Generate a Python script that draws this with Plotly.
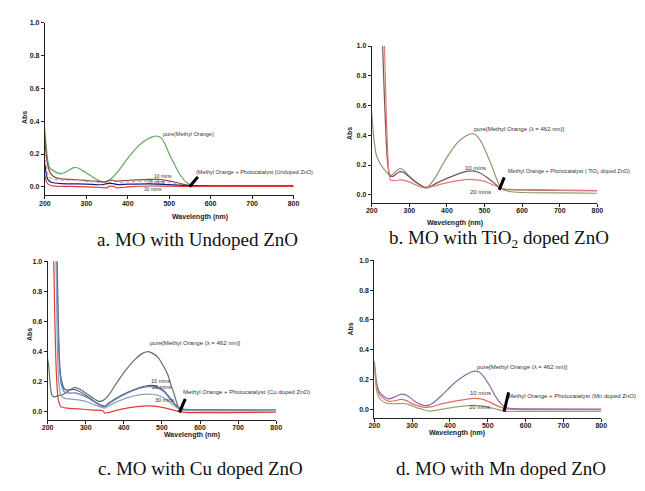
import plotly.graph_objects as go

# ---------------- data ----------------
# Panel a: MO with Undoped ZnO
A_PURE_WL = [200, 203, 207, 212, 220, 230, 240, 250, 260, 270, 280, 290, 300, 315, 330, 340, 350, 360, 375, 390, 405, 420, 435, 450, 460, 468, 480, 490, 500, 510, 520, 530, 540, 550, 560, 600, 700, 800]
A_PURE = [0.35, 0.25, 0.16, 0.115, 0.10, 0.085, 0.08, 0.09, 0.105, 0.117, 0.115, 0.10, 0.085, 0.06, 0.038, 0.028, 0.03, 0.05, 0.09, 0.14, 0.19, 0.235, 0.27, 0.295, 0.305, 0.31, 0.30, 0.26, 0.20, 0.15, 0.10, 0.06, 0.03, 0.013, 0.007, 0.005, 0.004, 0.004]
A_10_WL = [200, 203, 207, 212, 220, 235, 260, 280, 300, 330, 345, 355, 365, 370, 390, 420, 450, 475, 495, 515, 535, 550, 570, 800]
A_10 = [0.30, 0.20, 0.13, 0.09, 0.065, 0.05, 0.045, 0.043, 0.038, 0.033, 0.03, 0.04, 0.04, 0.035, 0.038, 0.042, 0.045, 0.045, 0.038, 0.028, 0.015, 0.008, 0.005, 0.005]
A_20_WL = [200, 205, 210, 220, 250, 270, 300, 340, 350, 360, 370, 400, 450, 480, 500, 530, 550, 800]
A_20 = [0.20, 0.10, 0.06, 0.045, 0.04, 0.04, 0.033, 0.025, 0.022, 0.03, 0.02, 0.03, 0.035, 0.035, 0.025, 0.012, 0.006, 0.004]
A_NAVY_WL = [200, 203, 207, 215, 240, 300, 340, 350, 365, 372, 400, 450, 500, 550, 600, 800]
A_NAVY = [0.14, 0.08, 0.045, 0.028, 0.02, 0.017, 0.013, 0.02, 0.02, 0.014, 0.016, 0.018, 0.014, 0.007, 0.005, 0.005]
A_30_WL = [200, 203, 208, 220, 260, 300, 335, 350, 355, 368, 372, 400, 450, 500, 550, 800]
A_30 = [0.07, 0.035, 0.015, 0.005, 0.003, 0.0, -0.004, -0.006, 0.003, 0.002, -0.006, 0.0, 0.005, 0.004, 0.002, 0.003]

# Panel b: MO with TiO2 doped ZnO
B_PURE_WL = [200, 203, 207, 212, 220, 230, 240, 248, 255, 265, 275, 285, 300, 320, 340, 350, 370, 390, 410, 430, 450, 465, 475, 490, 500, 510, 520, 530, 540, 550, 565, 600, 700, 800]
B_PURE = [0.55, 0.45, 0.35, 0.27, 0.22, 0.18, 0.15, 0.13, 0.135, 0.16, 0.175, 0.165, 0.125, 0.08, 0.05, 0.055, 0.12, 0.21, 0.29, 0.355, 0.395, 0.41, 0.405, 0.36, 0.31, 0.25, 0.19, 0.12, 0.06, 0.035, 0.022, 0.015, 0.012, 0.01]
B_10_WL = [229, 233, 237, 241, 245, 250, 258, 265, 275, 285, 300, 320, 340, 350, 370, 400, 430, 450, 467, 485, 505, 525, 540, 555, 600, 700, 800]
B_10 = [1.0, 0.7, 0.45, 0.25, 0.16, 0.125, 0.125, 0.14, 0.155, 0.15, 0.12, 0.08, 0.05, 0.048, 0.075, 0.11, 0.14, 0.155, 0.16, 0.15, 0.12, 0.08, 0.047, 0.035, 0.033, 0.03, 0.028]
B_20_WL = [234, 237, 240, 243, 246, 250, 260, 275, 290, 310, 330, 345, 360, 390, 430, 460, 480, 500, 520, 540, 555, 600, 700, 800]
B_20 = [1.0, 0.7, 0.45, 0.25, 0.14, 0.10, 0.095, 0.10, 0.095, 0.075, 0.052, 0.045, 0.055, 0.075, 0.095, 0.104, 0.10, 0.09, 0.07, 0.048, 0.038, 0.035, 0.03, 0.028]

# Panel c: MO with Cu doped ZnO
C_PURE_WL = [200, 203, 206, 210, 215, 225, 240, 255, 270, 285, 300, 320, 335, 345, 360, 378, 403, 430, 450, 464, 475, 490, 505, 515, 525, 532, 540, 547, 560, 600, 800]
C_PURE = [0.35, 0.30, 0.20, 0.12, 0.10, 0.105, 0.115, 0.14, 0.162, 0.15, 0.125, 0.09, 0.07, 0.075, 0.11, 0.18, 0.27, 0.35, 0.39, 0.40, 0.39, 0.36, 0.30, 0.25, 0.17, 0.12, 0.05, 0.015, 0.012, 0.01, 0.01]
C_10_WL = [225, 228, 232, 237, 245, 255, 268, 280, 300, 320, 340, 352, 356, 380, 410, 440, 465, 485, 505, 525, 540, 555, 600, 800]
C_10 = [1.0, 0.6, 0.3, 0.2, 0.15, 0.145, 0.15, 0.14, 0.11, 0.075, 0.045, 0.04, 0.05, 0.09, 0.13, 0.16, 0.175, 0.17, 0.14, 0.08, 0.035, 0.018, 0.014, 0.012]
C_20_WL = [224, 227, 231, 236, 245, 260, 275, 300, 320, 340, 352, 356, 380, 410, 440, 465, 485, 505, 525, 540, 555, 600, 800]
C_20 = [1.0, 0.6, 0.3, 0.18, 0.13, 0.125, 0.125, 0.10, 0.07, 0.04, 0.035, 0.045, 0.085, 0.125, 0.155, 0.168, 0.163, 0.135, 0.075, 0.033, 0.017, 0.013, 0.011]
C_30_WL = [222, 225, 229, 235, 245, 260, 280, 300, 320, 340, 350, 356, 380, 410, 440, 465, 490, 510, 530, 545, 560, 800]
C_30 = [1.0, 0.5, 0.2, 0.11, 0.09, 0.085, 0.08, 0.07, 0.05, 0.032, 0.025, 0.035, 0.065, 0.095, 0.113, 0.118, 0.11, 0.085, 0.045, 0.018, 0.01, 0.008]
C_RED_WL = [216, 219, 223, 228, 235, 250, 280, 320, 345, 350, 358, 380, 420, 460, 480, 510, 540, 560, 800]
C_RED = [1.0, 0.6, 0.25, 0.08, 0.035, 0.025, 0.02, 0.012, 0.008, -0.008, -0.005, 0.01, 0.03, 0.04, 0.038, 0.025, 0.005, -0.003, -0.002]

# Panel d: MO with Mn doped ZnO
D_PURE_WL = [200, 203, 207, 212, 220, 230, 240, 250, 262, 275, 290, 305, 320, 333, 345, 360, 380, 400, 420, 440, 455, 467, 478, 490, 505, 520, 535, 545, 560, 600, 800]
D_PURE = [0.325, 0.25, 0.17, 0.125, 0.10, 0.08, 0.072, 0.08, 0.095, 0.104, 0.09, 0.06, 0.037, 0.027, 0.03, 0.055, 0.10, 0.15, 0.195, 0.23, 0.25, 0.258, 0.25, 0.22, 0.16, 0.09, 0.04, 0.018, 0.008, 0.005, 0.004]
D_10_WL = [200, 203, 207, 212, 220, 230, 240, 255, 270, 285, 300, 320, 335, 350, 380, 420, 450, 465, 485, 505, 525, 545, 570, 800]
D_10 = [0.30, 0.22, 0.15, 0.11, 0.085, 0.065, 0.055, 0.06, 0.068, 0.06, 0.04, 0.022, 0.015, 0.018, 0.04, 0.06, 0.072, 0.075, 0.07, 0.05, 0.025, 0.007, 0.002, 0.0]
D_20_WL = [200, 203, 207, 212, 220, 230, 240, 260, 275, 290, 310, 330, 345, 360, 400, 440, 465, 490, 520, 545, 570, 800]
D_20 = [0.32, 0.20, 0.12, 0.085, 0.06, 0.045, 0.04, 0.04, 0.042, 0.035, 0.015, 0.0, -0.01, -0.005, 0.012, 0.025, 0.028, 0.022, 0.005, -0.01, -0.012, -0.012]

X_TICKS = [200, 300, 400, 500, 600, 700, 800]
Y_TICKS = [0.0, 0.2, 0.4, 0.6, 0.8, 1.0]
CAPTIONS = ["a. MO with Undoped ZnO", "b. MO with TiO<sub>2</sub> doped ZnO",
            "c. MO with Cu doped ZnO", "d. MO with Mn doped ZnO"]

# page is 645x491; the html body has an 8px margin, so the figure is drawn inside it
OFF = 8
W, H = 645 - 2 * OFF, 491 - 2 * OFF

def px(x):
    return (x - OFF) / W

def py(y):
    return 1 - (y - OFF) / H

# panel geometry in page pixels: (left, right, top(1.0), bottom axis line, yrange min)
PANELS = [
    (39.5, 293.0, 19.0, 193.0, -0.0526),
    (372.7, 602.7, 42.3, 200.7, -0.056),
    (42.3, 275.3, 259.3, 419.0, -0.0507),
    (375.3, 606.7, 258.3, 417.0, -0.053),
]

fig = go.Figure()

SERIES = [
    [(A_PURE_WL, A_PURE, "#62a562", "solid"),
     (A_10_WL, A_10, "#8a4848", "solid"),
     (A_20_WL, A_20, "#d99a9a", "dot"),
     (A_NAVY_WL, A_NAVY, "#1c1c80", "solid"),
     (A_30_WL, A_30, "#e23a3a", "solid")],
    [(B_PURE_WL, B_PURE, "#8e9670", "solid"),
     (B_10_WL, B_10, "#7a5252", "solid"),
     (B_20_WL, B_20, "#e27878", "solid")],
    [(C_PURE_WL, C_PURE, "#5e7262", "solid"),
     (C_10_WL, C_10, "#4a5a8c", "solid"),
     (C_20_WL, C_20, "#6b7fa8", "solid"),
     (C_30_WL, C_30, "#84a6b8", "solid"),
     (C_RED_WL, C_RED, "#e23a3a", "solid")],
    [(D_PURE_WL, D_PURE, "#8a6aa8", "solid"),
     (D_10_WL, D_10, "#e26a6a", "solid"),
     (D_20_WL, D_20, "#a0a070", "solid")],
]

axis_font = dict(family="Liberation Sans", size=7, color="#222", weight="bold")

for i, (l, r, t, b, ymin) in enumerate(PANELS):
    n = "" if i == 0 else str(i + 1)
    xa, ya = "x" + n, "y" + n
    for wl, val, col, dash in SERIES[i]:
        fig.add_trace(go.Scatter(x=wl, y=val, xaxis=xa, yaxis=ya, mode="lines",
                                 line=dict(color=col, width=1.2, dash=dash, shape="spline", smoothing=0.6),
                                 showlegend=False, hoverinfo="skip"))
    fig.layout["xaxis" + n] = dict(domain=[px(l), px(r)], anchor=ya, range=[200, 800],
                                   tickvals=X_TICKS, ticks="outside", ticklen=3, tickwidth=1,
                                   tickcolor="#222", showline=True, linecolor="#222", linewidth=1,
                                   showgrid=False, zeroline=False, tickfont=axis_font,
                                   ticklabelstandoff=-2)
    fig.layout["yaxis" + n] = dict(domain=[py(b), py(t)], anchor=xa, range=[ymin, 1.0],
                                   tickvals=Y_TICKS, tickformat=".1f", ticks="outside", ticklen=3,
                                   tickwidth=1, tickcolor="#222", showline=True, linecolor="#222",
                                   linewidth=1, showgrid=False, zeroline=False, tickfont=axis_font,
                                   ticklabelstandoff=0)

# axis titles (page pixel centres)
ABS_POS = [(13, 106), (349.3, 121.7), (18.3, 341.7), (350.7, 336.7)]
WL_POS = [(167, 215), (488.3, 221), (159, 440.5), (490.7, 438.5)]
for (ax_, ay_), (wx, wy) in zip(ABS_POS, WL_POS):
    fig.add_annotation(x=px(ax_), y=py(ay_), xref="paper", yref="paper", text="<b>Abs</b>",
                       textangle=-90, showarrow=False, font=dict(family="Liberation Sans", size=7, color="#222"))
    fig.add_annotation(x=px(wx), y=py(wy), xref="paper", yref="paper", text="<b>Wavelength (nm)</b>",
                       showarrow=False, font=dict(family="Liberation Sans", size=7, color="#222"))

# captions
CAP_POS = [(91, 237), (388, 237), (92, 481), (395, 481)]
for (cx, cy), txt in zip(CAP_POS, CAPTIONS):
    fig.add_annotation(x=px(cx), y=py(cy), xref="paper", yref="paper", text=txt, xanchor="left",
                       showarrow=False, font=dict(family="Liberation Serif", size=19, color="#111"))

# in-plot labels: (panel, wavelength, abs, text, anchor, size)
LABELS = [
    (0, 479, 0.32, "pure(Methyl Orange)", "left", 5.5),
    (0, 560, 0.09, "(Methyl Orange + Photocatalyst (Undoped ZnO)", "left", 5.5),
    (0, 485, 0.066, "10 mins", "center", 5),
    (0, 469, 0.03, "20 mins", "center", 5),
    (0, 460, -0.012, "30 mins", "center", 5),
    (1, 467, 0.44, "pure[Methyl Orange (λ = 462 nm)]", "left", 6),
    (1, 476, 0.177, "10 mins", "center", 6),
    (1, 490, 0.02, "20 mins", "center", 6),
    (1, 556, 0.153, "Methyl Orange + Photocatalyst ( TiO<sub>2</sub> doped ZnO)", "left", 5.5),
    (2, 464, 0.454, "pure[Methyl Orange (λ = 462 nm)]", "left", 6),
    (2, 467, 0.206, "10 mins", "left", 5.5),
    (2, 470, 0.162, "20 mins", "left", 5.5),
    (2, 476, 0.081, "30 mins", "left", 5.5),
    (2, 550, 0.134, "Methyl Orange + Photocatalyst (Cu doped ZnO)", "left", 6),
    (3, 465, 0.287, "pure[Methyl Orange (λ = 462 nm)]", "left", 6),
    (3, 481, 0.108, "10 mins", "center", 6),
    (3, 481, 0.015, "20 mins.", "center", 6),
    (3, 549, 0.093, "Methyl Orange + Photocatalyst (Mn doped ZnO)", "left", 6),
]
for p, wl, ab, txt, anc, sz in LABELS:
    n = "" if p == 0 else str(p + 1)
    fig.add_annotation(x=wl, y=ab, xref="x" + n, yref="y" + n, text=txt, xanchor=anc,
                       showarrow=False, font=dict(family="Liberation Sans", size=sz, color="#333"))

# black pointer bars: (panel, from wl, from abs, to wl, to abs)
POINTERS = [
    (0, 572, 0.07, 549, 0.0),
    (1, 554, 0.127, 539, 0.033),
    (2, 563, 0.096, 546, -0.003),
    (3, 556, 0.126, 543, -0.013),
]
for p, x0, y0, x1, y1 in POINTERS:
    n = "" if p == 0 else str(p + 1)
    fig.add_annotation(x=x1, y=y1, ax=x0, ay=y0, xref="x" + n, yref="y" + n,
                       axref="x" + n, ayref="y" + n, text="", showarrow=True,
                       arrowhead=0, arrowwidth=3, arrowcolor="#000", standoff=0, startstandoff=0)

fig.update_layout(width=W, height=H, margin=dict(l=0, r=0, t=0, b=0),
                  paper_bgcolor="white", plot_bgcolor="white", showlegend=False)

fig.write_html("out.html")
